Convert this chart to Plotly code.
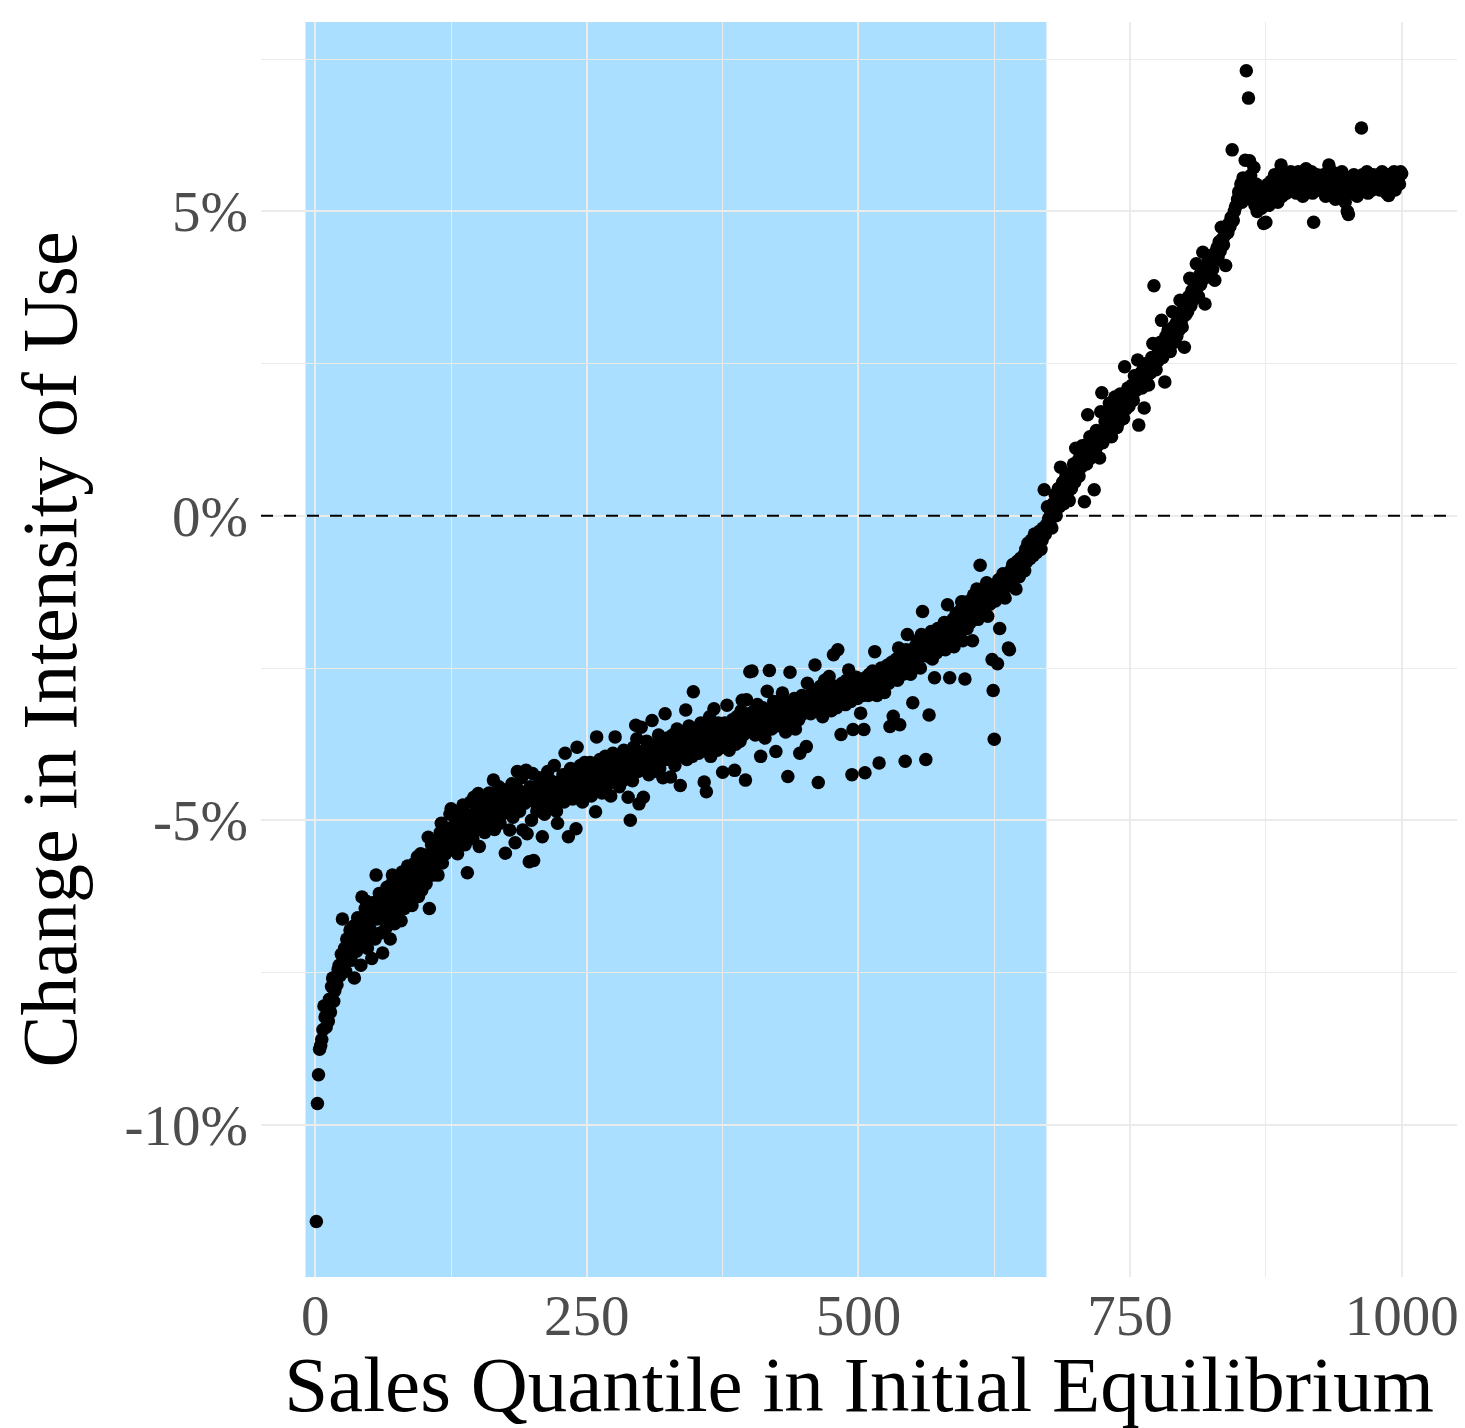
import plotly.graph_objects as go

# ---- data (percent change in intensity of use, by sales quantile 1..1000) ----
b01 = [-11.59, -9.65, -9.18, -8.76, -8.70, -8.60, -8.44, -8.05, -8.23, -8.40, -8.09, -8.30, -7.94, -8.15, -7.73, -7.59, -7.97, -7.80, -7.62, -7.70, -7.45, -7.38, -7.55, -7.20, -6.62]
b02 = [-7.35, -7.10, -7.48, -6.95, -7.25, -7.09, -6.80, -7.30, -7.05, -6.74, -7.59, -6.90, -7.15, -6.60, -7.00, -6.85, -7.38, -6.26, -6.70, -6.95, -6.45, -6.33, -7.10, -6.74, -6.55]
b03 = [-6.80, -7.27, -6.50, -6.35, -6.95, -5.90, -6.62, -6.40, -6.20, -6.85, -6.55, -7.18, -6.30, -6.48, -6.77, -6.10, -6.60, -6.25, -6.95, -6.05, -5.90, -6.40, -6.70, -6.15, -6.50]
b04 = [-6.35, -6.00, -6.20, -6.65, -5.85, -6.21, -6.45, -5.95, -6.10, -5.75, -6.30, -6.05, -5.90, -6.40, -5.80, -5.71, -6.15, -6.02, -5.60, -6.25, -5.88, -5.55, -6.15, -5.70, -5.95]
b05 = [-5.57, -6.04, -5.80, -5.28, -6.45, -5.65, -5.40, -5.90, -5.50, -5.75, -5.35, -5.62, -5.90, -5.45, -5.20, -5.05, -5.70, -5.48, -5.30, -5.55, -5.15, -5.40, -5.25, -4.90, -4.81]
b06 = [-5.30, -5.10, -5.45, -4.95, -5.20, -5.55, -4.85, -5.35, -5.05, -5.25, -4.75, -5.15, -5.40, -4.90, -5.86, -5.00, -5.20, -4.70, -4.95, -5.30, -4.62, -5.10, -4.85, -5.15, -4.56]
b07 = [-5.43, -4.80, -5.05, -4.65, -4.95, -5.20, -4.75, -4.90, -5.11, -4.55, -5.00, -4.70, -4.85, -4.34, -5.15, -4.60, -4.95, -4.80, -4.45, -5.05, -4.70, -4.90, -4.50, -4.75, -5.54]
b08 = [-4.65, -4.85, -4.55, -5.16, -4.70, -4.40, -4.95, -4.60, -5.37, -4.75, -4.20, -4.50, -4.85, -4.65, -4.30, -5.16, -4.55, -4.72, -4.18, -5.22, -4.60, -5.68, -4.45, -5.00, -4.23]
b09 = [-5.66, -4.70, -4.45, -4.85, -4.55, -4.30, -4.75, -4.60, -5.27, -4.40, -4.90, -4.50, -4.65, -4.20, -4.80, -4.45, -4.35, -4.70, -4.55, -4.10, -4.60, -4.85, -5.05, -4.40, -4.50]
b10 = [-4.35, -4.60, -4.25, -4.70, -3.90, -4.50, -4.30, -5.27, -4.55, -4.15, -4.40, -4.65, -4.20, -4.45, -5.14, -3.80, -4.35, -4.55, -4.10, -4.40, -4.70, -4.25, -4.05, -4.50, -4.30]
b11 = [-4.20, -4.45, -4.05, -4.60, -4.30, -4.15, -4.50, -4.86, -3.63, -4.25, -4.40, -4.00, -4.35, -4.55, -4.10, -4.30, -3.95, -4.45, -4.20, -4.05, -4.35, -4.60, -4.15, -3.90, -4.25]
b12 = [-3.63, -4.30, -4.05, -4.20, -4.45, -3.95, -4.10, -4.35, -3.85, -4.15, -4.00, -4.25, -4.62, -3.90, -5.00, -4.10, -4.35, -3.80, -4.05, -3.44, -3.66, -4.20, -4.73, -3.95, -3.47]
b13 = [-4.05, -4.62, -3.85, -4.15, -3.70, -3.95, -4.25, -3.80, -4.10, -3.36, -3.90, -4.20, -3.75, -4.05, -3.85, -3.60, -4.15, -3.95, -3.70, -4.30, -3.80, -3.25, -4.00, -3.65, -3.90]
b14 = [-3.75, -4.29, -3.95, -3.60, -3.85, -4.10, -3.70, -3.50, -3.95, -3.80, -4.43, -3.65, -3.90, -3.55, -3.75, -3.19, -4.00, -3.70, -3.45, -3.85, -3.60, -3.95, -2.89, -3.70, -3.50]
b15 = [-3.80, -3.55, -3.90, -3.65, -3.40, -3.75, -3.60, -4.37, -3.85, -4.53, -3.50, -3.70, -3.30, -3.95, -3.60, -3.45, -3.17, -3.75, -3.55, -3.85, -3.40, -3.65, -3.50, -3.80, -4.21]
b16 = [-3.60, -3.40, -3.70, -3.11, -3.55, -3.85, -3.45, -3.65, -3.35, -3.50, -4.18, -3.75, -3.30, -3.55, -3.45, -3.70, -3.20, -3.03, -3.60, -3.40, -4.34, -3.02, -3.50, -3.25, -2.56]
b17 = [-3.35, -2.55, -3.50, -3.20, -3.60, -3.40, -3.10, -3.55, -3.30, -3.95, -3.45, -3.15, -3.35, -3.65, -3.25, -2.88, -3.40, -2.54, -3.20, -3.50, -3.30, -3.05, -3.45, -3.87, -3.15]
b18 = [-3.30, -3.10, -3.45, -3.20, -2.91, -3.35, -3.05, -3.55, -3.25, -4.28, -3.15, -2.57, -3.40, -3.10, -3.30, -3.00, -3.50, -3.20, -3.05, -3.35, -3.90, -3.15, -2.95, -3.25, -3.10]
b19 = [-3.15, -3.79, -2.75, -3.10, -2.95, -3.25, -3.00, -2.85, -3.20, -2.45, -3.05, -2.90, -4.38, -3.15, -2.80, -3.00, -3.30, -2.95, -2.70, -3.10, -2.85, -3.05, -2.64, -2.90, -3.20]
b20 = [-2.95, -2.28, -3.05, -2.80, -3.15, -2.20, -2.90, -3.00, -3.59, -2.75, -2.95, -2.85, -3.10, -2.70, -2.95, -2.53, -2.80, -3.05, -4.25, -3.51, -2.75, -2.90, -2.65, -3.00, -2.80]
b21 = [-2.85, -3.24, -2.70, -2.95, -3.51, -4.22, -2.65, -2.80, -2.95, -2.60, -2.75, -2.90, -2.55, -2.85, -2.23, -2.70, -2.95, -2.60, -4.06, -2.80, -2.50, -2.75, -2.65, -2.90, -2.55]
b22 = [-2.60, -2.45, -2.75, -3.46, -2.55, -2.40, -3.29, -2.65, -2.50, -2.35, -2.70, -2.17, -3.43, -2.55, -2.30, -2.60, -2.45, -4.03, -2.20, -1.95, -2.50, -2.35, -2.60, -2.25, -3.07]
b23 = [-2.40, -2.15, -2.30, -2.05, -2.35, -2.20, -2.50, -1.95, -1.57, -2.25, -2.10, -4.00, -2.30, -2.05, -3.27, -2.20, -1.90, -2.35, -2.10, -2.66, -2.00, -2.25, -1.85, -2.15, -1.95]
b24 = [-2.10, -1.85, -2.00, -1.75, -2.20, -1.90, -1.46, -2.05, -2.66, -1.80, -1.95, -1.70, -2.15, -1.85, -1.60, -2.00, -1.75, -1.90, -1.55, -1.41, -2.05, -1.42, -2.68, -1.70, -1.85]
b25 = [-1.65, -1.40, -1.75, -1.55, -2.05, -1.30, -1.60, -1.45, -1.20, -1.70, -1.50, -0.81, -1.35, -1.60, -1.25, -1.55, -1.40, -1.10, -1.65, -1.30, -1.45, -1.20, -2.36, -2.87, -3.67]
b26 = [-1.40, -1.25, -2.43, -1.05, -1.85, -1.30, -1.10, -0.95, -1.20, -1.35, -1.00, -1.15, -2.17, -2.20, -0.90, -1.10, -0.80, -1.05, -0.95, -1.20, -0.75, -0.90, -1.00, -0.70, -0.85]
b27 = [-0.80, -0.65, -0.90, -0.55, -0.75, -0.45, -0.60, -0.70, -0.40, -0.55, -0.65, -0.30, -0.50, -0.60, -0.35, -0.45, -0.25, -0.55, -0.40, -0.20, 0.43, -0.30, -0.15, 0.15, -0.05]
b28 = [-0.10, 0.05, -0.20, 0.20, 0.10, 0.35, 0.00, 0.25, 0.45, 0.15, 0.80, 0.30, 0.55, 0.20, 0.40, 0.65, 0.35, 0.50, 0.25, 0.70, 0.45, 0.60, 0.85, 0.55, 1.11]
b29 = [0.70, 0.90, 0.65, 1.00, 0.80, 1.15, 0.95, 0.23, 1.05, 0.85, 1.66, 1.20, 1.30, 0.95, 1.10, 1.25, 0.43, 1.05, 1.40, 1.15, 1.30, 0.95, 1.71, 2.02, 1.20]
b30 = [1.35, 1.55, 1.46, 1.70, 1.40, 1.85, 1.60, 1.30, 1.75, 1.50, 1.95, 1.65, 1.45, 1.80, 1.55, 2.00, 1.70, 1.85, 1.60, 2.45, 1.75, 1.90, 2.10, 1.80, 1.95]
b31 = [2.00, 2.15, 1.90, 2.30, 2.05, 2.25, 2.56, 1.49, 2.20, 2.35, 2.10, 2.40, 1.77, 2.25, 2.50, 2.30, 2.15, 2.45, 2.35, 2.60, 2.83, 3.78, 2.50, 2.40, 2.65]
b32 = [2.55, 2.70, 2.85, 3.21, 2.60, 2.75, 2.20, 2.95, 2.80, 3.05, 2.90, 2.70, 3.00, 3.35, 3.10, 2.85, 3.15, 2.95, 3.25, 3.05, 3.54, 3.20, 3.10, 3.40, 2.77]
b33 = [3.30, 3.50, 3.35, 3.60, 3.90, 3.45, 3.70, 3.55, 3.85, 3.65, 4.14, 3.75, 3.60, 3.95, 3.80, 4.05, 4.33, 3.90, 3.48, 4.00, 4.15, 3.95, 4.25, 4.10, 4.20]
b34 = [4.05, 4.30, 3.87, 4.20, 4.40, 4.25, 4.50, 4.35, 4.74, 4.55, 4.45, 4.60, 4.11, 4.70, 4.65, 4.80, 4.75, 4.90, 6.01, 4.85, 5.00, 5.07, 5.10, 5.20, 5.32]
b35 = [5.30, 5.45, 5.15, 5.55, 5.25, 5.84, 7.31, 5.40, 6.86, 5.83, 5.59, 5.20, 5.35, 5.72, 5.10, 5.45, 5.00, 5.25, 5.15, 5.40, 5.05, 5.30, 4.80, 5.20, 4.82]
b36 = [5.25, 5.45, 5.10, 5.35, 5.50, 5.20, 5.40, 5.60, 5.30, 5.45, 5.15, 5.55, 5.35, 5.76, 5.25, 5.50, 5.40, 5.60, 5.30, 5.45, 5.55, 5.35, 5.65, 5.40, 5.50]
b37 = [5.40, 5.60, 5.30, 5.50, 5.65, 5.35, 5.55, 5.45, 5.25, 5.60, 5.40, 5.70, 5.50, 5.35, 5.55, 5.45, 5.65, 5.30, 4.82, 5.50, 5.40, 5.60, 5.35, 5.55, 5.45]
b38 = [5.50, 5.35, 5.60, 5.45, 5.25, 5.55, 5.40, 5.76, 5.30, 5.50, 5.65, 5.40, 5.55, 5.20, 5.45, 5.60, 5.35, 5.50, 5.40, 5.65, 5.30, 5.55, 5.15, 5.45, 5.00]
b39 = [4.95, 5.40, 5.55, 5.30, 5.45, 5.60, 5.35, 5.50, 5.25, 5.45, 5.55, 5.40, 6.37, 5.60, 5.35, 5.50, 5.45, 5.65, 5.30, 5.55, 5.40, 5.50, 5.35, 5.60, 5.45]
b40 = [5.40, 5.55, 5.45, 5.60, 5.35, 5.50, 5.65, 5.40, 5.55, 5.45, 5.30, 5.60, 5.26, 5.50, 5.40, 5.55, 5.45, 5.65, 5.35, 5.60, 5.50, 5.55, 5.45, 5.65, 5.62]

blocks = [b01, b02, b03, b04, b05, b06, b07, b08, b09, b10, b11, b12, b13, b14, b15, b16, b17, b18, b19, b20,
          b21, b22, b23, b24, b25, b26, b27, b28, b29, b30, b31, b32, b33, b34, b35, b36, b37, b38, b39, b40]
change_pct = [v for blk in blocks for v in blk]
quantile = list(range(1, len(change_pct) + 1))

shaded_from = -9
shaded_to = 673

y_ticks = [-10, -5, 0, 5]
y_ticktext = ["-10%", "-5%", "0%", "5%"]
y_minor = [-12.5, -7.5, -2.5, 2.5, 7.5]
x_ticks = [0, 250, 500, 750, 1000]
x_minor = [125, 375, 625, 875]

FONT = "Liberation Serif"
GRID = "#EBEBEB"

fig = go.Figure()
fig.add_trace(go.Scatter(
    x=quantile, y=change_pct, mode="markers",
    marker=dict(color="black", size=13.5, line=dict(width=0)),
    showlegend=False, hoverinfo="skip"))

fig.add_shape(type="rect", xref="x", yref="paper", x0=shaded_from, x1=shaded_to, y0=0, y1=1,
              fillcolor="#ABDFFF", line=dict(width=0), layer="below")
fig.add_shape(type="line", xref="paper", yref="y", x0=0, x1=1, y0=0, y1=0,
              line=dict(color="black", width=2, dash="12px,11px"), layer="above")

fig.update_layout(
    width=1465, height=1428,
    margin=dict(l=261, r=8, t=22, b=151),
    plot_bgcolor="white", paper_bgcolor="white",
    font=dict(family=FONT, color="black"),
    xaxis=dict(
        range=[-49.95, 1050.95], tickvals=x_ticks, ticktext=[str(v) for v in x_ticks],
        showgrid=True, gridcolor=GRID, gridwidth=2, zeroline=False, showline=False,
        ticks="", tickfont=dict(family=FONT, size=57, color="#4D4D4D"),
        minor=dict(tickvals=x_minor, showgrid=True, gridcolor=GRID, gridwidth=1, ticks=""),
        title=dict(text="Sales Quantile in Initial Equilibrium", font=dict(family=FONT, size=79, color="black"), standoff=8),
        automargin=False, fixedrange=True,
    ),
    yaxis=dict(
        range=[-12.5, 8.11], tickvals=y_ticks, ticktext=y_ticktext,
        showgrid=True, gridcolor=GRID, gridwidth=2, zeroline=False, showline=False,
        ticks="", tickfont=dict(family=FONT, size=57, color="#4D4D4D"),
        ticklabelstandoff=12,
        minor=dict(tickvals=y_minor, showgrid=True, gridcolor=GRID, gridwidth=1, ticks=""),
        title=dict(text="Change in Intensity of Use", font=dict(family=FONT, size=78, color="black"), standoff=22),
        automargin=False, fixedrange=True,
    ),
)

fig.write_html("out.html")
